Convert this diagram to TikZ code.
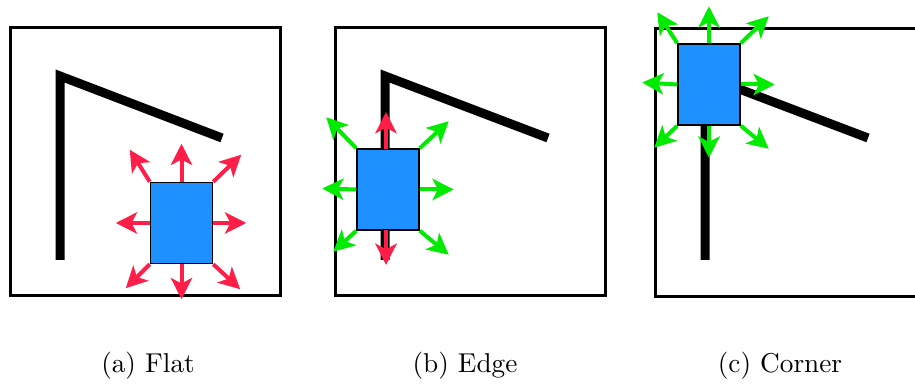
\documentclass[tikz,border=0pt]{standalone}
\usetikzlibrary{arrows.meta}
\definecolor{boxblue}{RGB}{30,144,255}
\definecolor{arrred}{RGB}{255,30,72}
\definecolor{arrgreen}{RGB}{0,235,0}
\begin{document}
\begin{tikzpicture}[x=0.4pt,y=-0.4pt,
  frame/.style={draw=black,line width=1.2pt},
  wall/.style={draw=black,line width=3.6pt,line join=miter},
  robot/.style={draw=black,fill=boxblue,line width=0.6pt,minimum width=24.8pt,minimum height=32.4pt,inner sep=0pt},
  redarr/.style={draw=arrred,line width=1.6pt,-{Stealth[length=8.5pt,width=8.5pt,inset=2.2pt]}},
  grnarr/.style={draw=arrgreen,line width=1.6pt,-{Stealth[length=8.5pt,width=8.5pt,inset=2.2pt]}},
  captext/.style={font=\fontsize{10.9}{13}\selectfont}]
\useasboundingbox (0,0) rectangle (915,384);
% panel (a)
\draw[frame] (10,28) rectangle (280,296);
\draw[wall] (60,260) -- (60,76) -- (222,138);
\node[robot] (ra) at (181.5,223) {};
\draw[redarr] (ra.north) -- ++(0,-38);
\draw[redarr] (ra.south) -- ++(0,35);
\draw[redarr] (ra.west) -- ++(-34,0);
\draw[redarr] (ra.east) -- ++(33,0);
\draw[redarr] (ra.north west) -- ++(-20,-32);
\draw[redarr] (ra.north east) -- ++(28,-27);
\draw[redarr] (ra.south west) -- ++(-24,24);
\draw[redarr] (ra.south east) -- ++(27,25);
\node[captext] (ca) at (148,366) {(a) Flat};
% panel (b)
\draw[frame] (335,28) rectangle (605,296);
\draw[wall] (385,260) -- (385,76) -- (548,138);
\node[robot] (rb) at (388,189.5) {};
\coordinate (rbt) at (386,149);
\coordinate (rbb) at (386,230);
\draw[redarr] (rbt) -- (386,112);
\draw[redarr] (rbb) -- (386,265);
\draw[grnarr] (rb.west) -- ++(-34,-1);
\draw[grnarr] (rb.east) -- ++(34,0);
\draw[grnarr] (rb.north west) -- ++(-30,-31);
\draw[grnarr] (rb.north east) -- ++(29,-27);
\draw[grnarr] (rb.south west) -- ++(-23,21);
\draw[grnarr] (rb.south east) -- ++(29,24);
\node[captext] (cb) at (465,366) {(b) Edge};
% panel (c)
\draw[frame] (655,29) rectangle (930,297);
\draw[wall] (705,260) -- (705,76) -- (868,138);
\node[robot] (rc) at (709,84.5) {};
\draw[grnarr] (rc.north) -- ++(0,-37);
\draw[grnarr] (rc.south) -- ++(0,32);
\draw[grnarr] (rc.west) -- ++(-35,-2);
\draw[grnarr] (rc.east) -- ++(34,0);
\draw[grnarr] (rc.north west) -- ++(-20,-31);
\draw[grnarr] (rc.north east) -- ++(28,-27);
\draw[grnarr] (rc.south west) -- ++(-23,22);
\draw[grnarr] (rc.south east) -- ++(28,23);
\node[captext] (cc) at (780,366) {(c) Corner};
\end{tikzpicture}
\end{document}
